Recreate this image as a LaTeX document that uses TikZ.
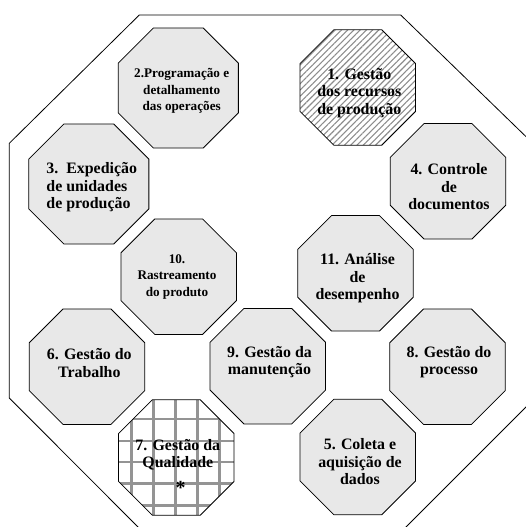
\documentclass[tikz,border=0pt]{standalone}
\usepackage{fontspec}
\setmainfont{Liberation Serif}
\usetikzlibrary{shapes.geometric,patterns.meta}
\begin{document}
\begin{tikzpicture}[x=1pt,y=-1pt,
  module/.style={regular polygon, regular polygon sides=8, minimum size=125pt,
    inner sep=0pt, draw=black, line width=0.8pt, fill=gray!18},
  wide/.style={minimum size=130pt},
  hatched/.style={fill=white, pattern={Lines[angle=45,distance=4.4pt,line width=1.1pt]},
    pattern color=black!45},
  gridline/.style={draw=black!42, line width=2.2pt},
  gridded/.style={fill=white, path picture={
    \foreach \d in {-44.8,-22.8,-0.8,21.2,43.2}
      \draw[gridline] ([xshift=\d pt]path picture bounding box.north) --
                      ([xshift=\d pt]path picture bounding box.south);
    \foreach \d in {38.2,16.5,-4.5,-26,-48}
      \draw[gridline] ([yshift=\d pt]path picture bounding box.west) --
                      ([yshift=\d pt]path picture bounding box.east);
  }},
  big/.style={font=\bfseries\fontsize{15.9}{17.5}\selectfont, align=center, inner sep=0pt},
  small/.style={font=\bfseries\fontsize{13.2}{16.6}\selectfont, align=center, inner sep=0pt},
  frame/.style={draw=black, line width=0.8pt}
]
\useasboundingbox (0,0) rectangle (526,527);
\begin{scope}
  \clip (0,0) rectangle (526,527);
  % enclosing octagon
  \draw[frame] (139.3,15) -- (400.7,15) -- (531,141.5) -- (531,402) -- (405,528)
    -- (139,528) -- (9.3,398) -- (9.3,143.3) -- cycle;
\end{scope}

% modules
\node[module, hatched] (o1) at (357.8,87.5) {};
\node[module, wide] (o2) at (178.3,88) {};
\node[module, wide] (o3) at (88.8,184) {};
\node[module] (o4) at (448,181.3) {};
\node[module] (o5) at (357.8,457) {};
\node[module] (o6) at (87,366.7) {};
\node[module, gridded] (o7) at (176.3,457.5) {};
\node[module] (o8) at (447.5,366.7) {};
\node[module] (o9) at (267.8,366.2) {};
\node[module] (o10) at (178.7,276.7) {};
\node[module] (o11) at (355.5,273.3) {};

% module titles
\node[big] (t1) at (359.3,92.7) {1. Gestão\\dos recursos\\de produção};
\node[small] (t2) at (181.7,91) {2.Programação e\\detalhamento\\das operações};
\node[big, align=left] (t3) at (91.7,187.3) {3.\ \ Expedição\\de unidades\\de produção};
\node[big] (t4) at (449,186.7) {4. Controle\\de\\documentos};
\node[big] (t5) at (360,461.7) {5. Coleta e\\aquisição de\\dados};
\node[big] (t6) at (89.3,363) {6. Gestão do\\Trabalho};
\node[big] (t7) at (177.8,454.5) {7. Gestão da\\Qualidade};
\node[inner sep=0pt, font=\bfseries\fontsize{20}{20}\selectfont] (t7s) at (180.5,487.5) {*};
\node[big] (t8) at (449,362) {8. Gestão do\\processo};
\node[big] (t9) at (269.5,362) {9. Gestão da\\manutenção};
\node[small] (t10) at (177,276.7) {10.\\Rastreamento\\do produto};
\node[big] (t11) at (357.5,278.3) {11. Análise\\de\\desempenho};
\end{tikzpicture}
\end{document}
